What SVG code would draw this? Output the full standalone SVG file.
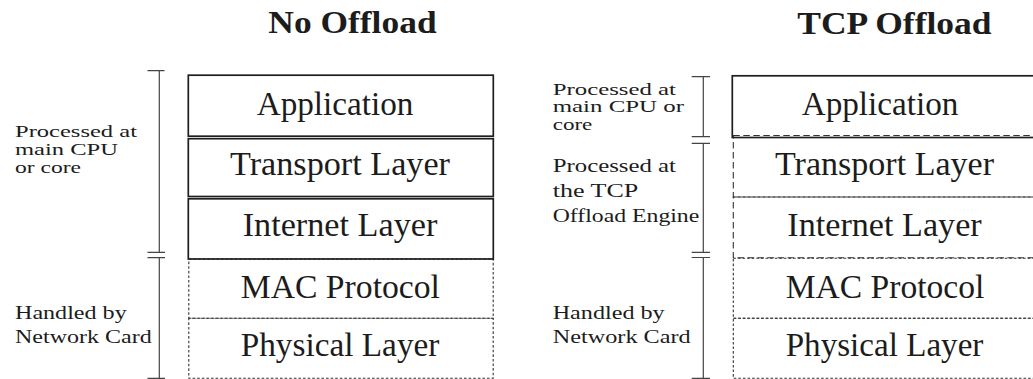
<svg xmlns="http://www.w3.org/2000/svg" width="1033" height="379" viewBox="0 0 1033 379">
  <style>
    text { font-family: "Liberation Serif", "Times New Roman", serif; fill: #1c1c1c; }
    .title { font-size: 31px; font-weight: bold; }
    .layer { font-size: 33px; }
    .note { font-size: 19px; }
    .note.tight { font-size: 16.5px; }
    .solid { fill: none; stroke: #1e1e1e; stroke-width: 1.7; }
    .dashed { fill: none; stroke: #333; stroke-width: 1.1; stroke-dasharray: 6.5 3.5; }
    .dotted { fill: none; stroke: #333; stroke-width: 1.1; stroke-dasharray: 2.6 2; }
    .brace { fill: none; stroke: #444; stroke-width: 1.2; }
  </style>
  <rect width="1033" height="379" fill="#ffffff"/>

  <!-- Column headings -->
  <g id="title-no-offload">
    <text class="title" x="268.3" y="33.3" textLength="168.3" lengthAdjust="spacingAndGlyphs">No Offload</text>
  </g>
  <g id="title-tcp-offload">
    <text class="title" x="797.3" y="33.5" textLength="194.3" lengthAdjust="spacingAndGlyphs">TCP Offload</text>
  </g>

  <!-- Left stack: no offload -->
  <g id="left-mac">
    <rect class="dotted" x="188.8" y="259" width="304.4" height="59.3"/>
    <text class="layer" x="240.7" y="298.3" textLength="199.3" lengthAdjust="spacingAndGlyphs">MAC Protocol</text>
  </g>
  <g id="left-physical">
    <rect class="dotted" x="188.8" y="318.3" width="304.4" height="60"/>
    <text class="layer" x="240.7" y="356" textLength="198.7" lengthAdjust="spacingAndGlyphs">Physical Layer</text>
  </g>
  <g id="left-application">
    <rect class="solid" x="188.3" y="75.2" width="305" height="61"/>
    <text class="layer" x="256.7" y="115" textLength="156.7" lengthAdjust="spacingAndGlyphs">Application</text>
  </g>
  <g id="left-transport">
    <rect class="solid" x="188.3" y="138.7" width="305" height="57.8"/>
    <text class="layer" x="230" y="175" textLength="220" lengthAdjust="spacingAndGlyphs">Transport Layer</text>
  </g>
  <g id="left-internet">
    <rect class="solid" x="188.3" y="198.8" width="305" height="60.2"/>
    <text class="layer" x="242.7" y="235.7" textLength="194.7" lengthAdjust="spacingAndGlyphs">Internet Layer</text>
  </g>

  <!-- Right stack: TCP offload (box runs past the right edge) -->
  <g id="right-transport">
    <rect class="dashed" x="733.3" y="135.5" width="305" height="61.5"/>
    <text class="layer" x="775" y="175" textLength="219" lengthAdjust="spacingAndGlyphs">Transport Layer</text>
  </g>
  <g id="right-internet">
    <rect class="dashed" x="733.3" y="197" width="305" height="60.7"/>
    <text class="layer" x="787.3" y="235.7" textLength="194.4" lengthAdjust="spacingAndGlyphs">Internet Layer</text>
  </g>
  <g id="right-mac">
    <rect class="dotted" x="733.3" y="258.2" width="305" height="60.1"/>
    <text class="layer" x="785.7" y="298.3" textLength="198.7" lengthAdjust="spacingAndGlyphs">MAC Protocol</text>
  </g>
  <g id="right-physical">
    <rect class="dotted" x="733.3" y="318.3" width="305" height="60"/>
    <text class="layer" x="785.7" y="356" textLength="197.7" lengthAdjust="spacingAndGlyphs">Physical Layer</text>
  </g>
  <g id="right-application">
    <rect class="solid" x="732.3" y="75.8" width="305" height="61.7"/>
    <text class="layer" x="801.7" y="115" textLength="156.7" lengthAdjust="spacingAndGlyphs">Application</text>
  </g>

  <!-- Range brackets beside each stack -->
  <g id="connectors">
    <path class="brace" d="M159.3 70.7 V252.3 M147.5 70.7 H164.5 M147.5 252.3 H165"/>
    <path class="brace" d="M159.3 257.7 V378.3 M147.5 257.7 H165 M147.5 378.3 H165"/>
    <path class="brace" d="M703.3 76.7 V136.7 M691.7 76.7 H710 M691.7 136.7 H710"/>
    <path class="brace" d="M703.3 143.3 V252.3 M691.7 143.3 H710 M691.7 252.3 H710"/>
    <path class="brace" d="M703.3 257.5 V378.3 M691.7 257.5 H710 M691.7 378.3 H710"/>
  </g>

  <!-- Side notes: left stack -->
  <g id="note-left-cpu">
    <text class="note tight" x="15" y="136.7" textLength="122" lengthAdjust="spacingAndGlyphs">Processed at</text>
    <text class="note tight" x="15" y="155" textLength="103" lengthAdjust="spacingAndGlyphs">main CPU</text>
    <text class="note tight" x="15" y="173.3" textLength="66" lengthAdjust="spacingAndGlyphs">or core</text>
  </g>
  <g id="note-left-nic">
    <text class="note" x="15" y="319" textLength="111.7" lengthAdjust="spacingAndGlyphs">Handled by</text>
    <text class="note" x="15" y="343.3" textLength="136.7" lengthAdjust="spacingAndGlyphs">Network Card</text>
  </g>

  <!-- Side notes: right stack -->
  <g id="note-right-cpu">
    <text class="note tight" x="552.7" y="95" textLength="123.3" lengthAdjust="spacingAndGlyphs">Processed at</text>
    <text class="note tight" x="552.7" y="112.3" textLength="131.3" lengthAdjust="spacingAndGlyphs">main CPU or</text>
    <text class="note tight" x="552.7" y="130" textLength="39.6" lengthAdjust="spacingAndGlyphs">core</text>
  </g>
  <g id="note-right-toe">
    <text class="note" x="552.7" y="171.7" textLength="123.3" lengthAdjust="spacingAndGlyphs">Processed at</text>
    <text class="note" x="552.7" y="196.7" textLength="85.6" lengthAdjust="spacingAndGlyphs">the TCP</text>
    <text class="note" x="552.7" y="221.7" textLength="146.6" lengthAdjust="spacingAndGlyphs">Offload Engine</text>
  </g>
  <g id="note-right-nic">
    <text class="note" x="552.7" y="319" textLength="112" lengthAdjust="spacingAndGlyphs">Handled by</text>
    <text class="note" x="552.7" y="343.3" textLength="138" lengthAdjust="spacingAndGlyphs">Network Card</text>
  </g>
</svg>
